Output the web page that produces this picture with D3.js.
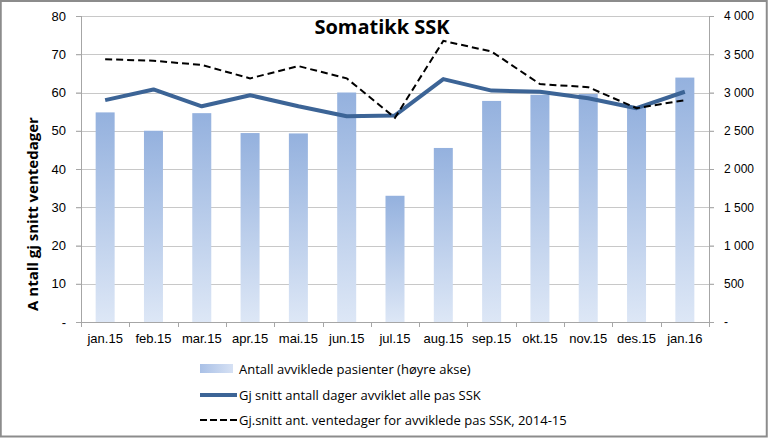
<!DOCTYPE html>
<html>
<head>
<meta charset="utf-8">
<script src="https://cdn.jsdelivr.net/npm/d3@7"></script>
<style>
  body { margin: 0; background: #fff; }
  svg { display: block; font-family: "Open Sans", "DejaVu Sans", sans-serif; }
</style>
</head>
<body>
<div id="chart-area"></div>
<script>
// Data
var months = ["jan.15", "feb.15", "mar.15", "apr.15", "mai.15", "jun.15", "jul.15",
              "aug.15", "sep.15", "okt.15", "nov.15", "des.15", "jan.16"];
var patients = [2740, 2500, 2730, 2470, 2465, 3000, 1650, 2275, 2890, 2970, 2980, 2810, 3195];
var avgDays = [58.0, 60.8, 56.4, 59.3, 56.4, 53.8, 54.0, 63.5, 60.5, 60.2, 58.5, 55.9, 60.2];
var avgWait = [68.7, 68.3, 67.2, 63.7, 66.9, 63.7, 53.4, 73.5, 70.7, 62.2, 61.4, 55.9, 58.0];
var leftTicks = [0, 10, 20, 30, 40, 50, 60, 70, 80];
var rightTicks = [0, 500, 1000, 1500, 2000, 2500, 3000, 3500, 4000];
var legendLabels = ["Antall avviklede pasienter (høyre akse)",
                    "Gj snitt antall dager avviklet alle pas SSK",
                    "Gj.snitt ant. ventedager for avviklede pas SSK, 2014-15"];

var W = 768, H = 438;
var margin = { left: 81, right: 59, top: 16, bottom: 116 };
var width = W - margin.left - margin.right,
    height = H - margin.top - margin.bottom;

var svg = d3.select("#chart-area")
    .append("svg")
        .attr("width", W)
        .attr("height", H);

// Gradient for bars
var grad = svg.append("defs").append("linearGradient")
    .attr("id", "barGrad")
    .attr("x1", 0).attr("y1", 0).attr("x2", 0).attr("y2", 1);
grad.append("stop").attr("offset", "0%").attr("stop-color", "#94b1de");
grad.append("stop").attr("offset", "100%").attr("stop-color", "#dde7f6");

var legGrad = svg.select("defs").append("linearGradient")
    .attr("id", "legGrad")
    .attr("x1", 0).attr("y1", 0).attr("x2", 1).attr("y2", 0);
legGrad.append("stop").attr("offset", "0%").attr("stop-color", "#a9c0e6");
legGrad.append("stop").attr("offset", "100%").attr("stop-color", "#d6e1f4");

// Outer border
svg.append("rect")
    .attr("x", 0.75).attr("y", 1)
    .attr("width", W - 2).attr("height", H - 2.5)
    .attr("fill", "none")
    .attr("stroke", "#8c8c8c")
    .attr("stroke-width", 2);

var g = svg.append("g")
    .attr("transform", "translate(" + margin.left + ", " + margin.top + ")");

// Scales
var x = d3.scaleBand()
    .domain(months)
    .range([0, width]);

var yL = d3.scaleLinear().domain([0, 80]).range([height, 0]);
var yR = d3.scaleLinear().domain([0, 4000]).range([height, 0]);

// Grid lines
g.append("g")
    .selectAll("line")
    .data(leftTicks.slice(1))
    .enter().append("line")
        .attr("x1", -5).attr("x2", width + 5)
        .attr("y1", function(d){ return Math.round(yL(d)) + 0.5; })
        .attr("y2", function(d){ return Math.round(yL(d)) + 0.5; })
        .attr("stroke", "#c8c8c8")
        .attr("stroke-width", 1);

// Bars
var barW = 19;
g.selectAll("rect.bar")
    .data(patients)
    .enter().append("rect")
        .attr("class", "bar")
        .attr("x", function(d, i){ return x(months[i]) + x.bandwidth() / 2 - barW / 2; })
        .attr("width", barW)
        .attr("y", function(d){ return yR(d); })
        .attr("height", function(d){ return height - yR(d); })
        .attr("fill", "url(#barGrad)");

// Axes
var fmtL = function(d){ return d === 0 ? "-" : d; };
var fmtR = function(d){ return d === 0 ? "-" : d3.format(",")(d).replace(",", "\u00a0"); };

var leftAxis = g.append("g")
    .call(d3.axisLeft(yL).tickValues(leftTicks).tickFormat(fmtL).tickSize(5).tickPadding(10));
var rightAxis = g.append("g")
    .attr("transform", "translate(" + width + ",0)")
    .call(d3.axisRight(yR).tickValues(rightTicks).tickFormat(fmtR).tickSize(5).tickPadding(10));

var bottomAxis = g.append("g")
    .attr("transform", "translate(0," + height + ")")
    .call(d3.axisBottom(x).tickSize(0).tickPadding(12));

// Band boundary ticks on the bottom axis
g.append("g")
    .selectAll("line")
    .data(d3.range(months.length + 1))
    .enter().append("line")
        .attr("x1", function(i){ return Math.round(i * x.step()) + 0.5; })
        .attr("x2", function(i){ return Math.round(i * x.step()) + 0.5; })
        .attr("y1", height).attr("y2", height + 5)
        .attr("stroke", "#a6a6a6");

[leftAxis, rightAxis, bottomAxis].forEach(function(a){
    a.select(".domain").attr("stroke", "#a6a6a6");
    a.selectAll(".tick line").attr("stroke", "#a6a6a6");
    a.selectAll("text").attr("fill", "#000").attr("font-size", "13px");
});
rightAxis.selectAll("text").attr("font-size", "12px");
leftAxis.select(".domain").attr("d", "M0.5,0V" + height);
rightAxis.select(".domain").attr("d", "M0.5,0V" + height);
bottomAxis.select(".domain").attr("d", "M0," + 0.5 + "H" + width);

// Lines
var lineL = d3.line()
    .x(function(d, i){ return x(months[i]) + x.bandwidth() / 2; })
    .y(function(d){ return yL(d); });

g.append("path")
    .datum(avgDays)
    .attr("d", lineL)
    .attr("fill", "none")
    .attr("stroke", "#3c6496")
    .attr("stroke-width", 4)
    .attr("stroke-linejoin", "round");

g.append("path")
    .datum(avgWait)
    .attr("d", lineL)
    .attr("fill", "none")
    .attr("stroke", "#000")
    .attr("stroke-width", 2)
    .attr("stroke-dasharray", "7,4");

// Title
svg.append("text")
    .attr("x", 382)
    .attr("y", 34)
    .attr("text-anchor", "middle")
    .attr("font-size", "20px")
    .attr("font-weight", "bold")
    .text("Somatikk SSK");

// Y Label
svg.append("text")
    .attr("transform", "translate(38," + 214 + ") rotate(-90)")
    .attr("text-anchor", "middle")
    .attr("font-size", "15px")
    .attr("font-weight", "bold")
    .text("A ntall gj snitt ventedager");

// Legend
var legY = [369, 395, 420];
var leg = svg.append("g");
leg.append("rect")
    .attr("x", 200).attr("y", legY[0] - 5)
    .attr("width", 33).attr("height", 9)
    .attr("fill", "url(#legGrad)");
leg.append("line")
    .attr("x1", 200).attr("x2", 237)
    .attr("y1", legY[1]).attr("y2", legY[1])
    .attr("stroke", "#3c6496").attr("stroke-width", 4);
leg.append("line")
    .attr("x1", 200).attr("x2", 237)
    .attr("y1", legY[2]).attr("y2", legY[2])
    .attr("stroke", "#000").attr("stroke-width", 2)
    .attr("stroke-dasharray", "7,3");

leg.selectAll("text")
    .data(legendLabels)
    .enter().append("text")
        .attr("x", 239)
        .attr("y", function(d, i){ return legY[i] + 5; })
        .attr("font-size", "13px")
        .text(function(d){ return d; });
</script>
</body>
</html>
